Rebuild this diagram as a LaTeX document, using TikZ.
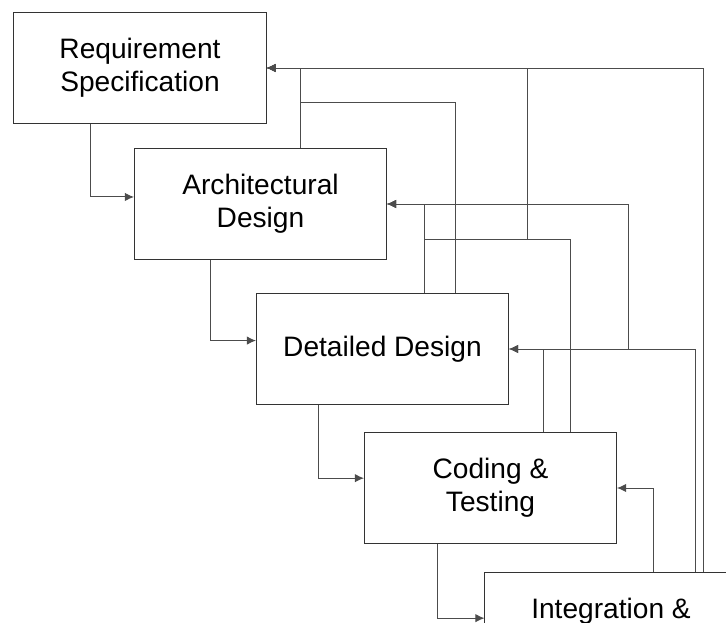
\documentclass[tikz,border=0pt]{standalone}
\usepackage{fontspec}
\setmainfont{Liberation Sans}
\usetikzlibrary{arrows.meta}

\begin{document}
\begin{tikzpicture}[x=0.025cm, y=-0.025cm,
    phase/.style={draw=black!80, line width=0.7pt, minimum width=6.3cm, minimum height=2.78cm,
        align=center, font=\fontsize{20}{23.5}\selectfont},
    flow/.style={draw=black!70, line width=0.7pt, -{Latex[length=6.5pt, width=6pt]}}]
    \useasboundingbox (0,0) rectangle (726,623);
    \clip (0,0) rectangle (726,623);

    \node[phase] (req) at (140, 68) {Requirement\\Specification};
    \node[phase] (arch) at (260.5, 204) {Architectural\\Design};
    \node[phase] (det) at (382.5, 349) {Detailed Design};
    \node[phase] (code) at (490.5, 488) {Coding \&\\Testing};
    \node[phase, text depth=1cm] (integ) at (611, 628) {Integration \&};

    % going down
    \draw[flow] (req.south -| 90,0) |- ([yshift=5pt]arch.west);
    \draw[flow] (arch.south -| 210,0) |- ([yshift=6pt]det.west);
    \draw[flow] (det.south -| 318,0) |- ([yshift=7pt]code.west);
    \draw[flow] (code.south -| 437,0) |- ([yshift=7pt]integ.west);

    % going back
    \draw[flow] (arch.north -| 300,0) |- (req.east);
    \draw[flow] (det.north -| 455,0) |- (300,102) |- (req.east);
    \draw[flow] (code.north -| 570,0) |- (527,239) |- (req.east);
    \draw[flow] (integ.north -| 703,0) |- (req.east);
    \draw[flow] (det.north -| 424,0) |- (arch.east);
    \draw[flow] (code.north -| 570,0) |- (424,239) |- (arch.east);
    \draw[flow] (integ.north -| 695,0) |- (det.east -| 628,0) |- (arch.east);
    \draw[flow] (code.north -| 543,0) |- (det.east);
    \draw[flow] (integ.north -| 695,0) |- (det.east);
    \draw[flow] (integ.north -| 653,0) |- (code.east);
\end{tikzpicture}
\end{document}
